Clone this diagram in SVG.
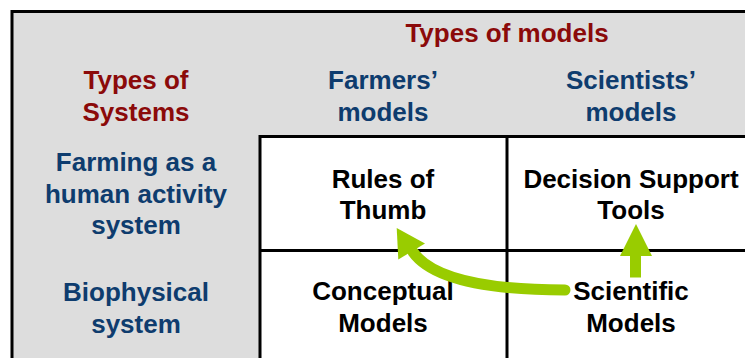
<svg xmlns="http://www.w3.org/2000/svg" width="745" height="358" viewBox="0 0 745 358">
<style>
text{font-family:"Liberation Sans",Arial,sans-serif;font-weight:bold;font-size:26px;text-anchor:middle}
.red{fill:#8B0A0A}
.blue{fill:#0E3C6E}
.blk{fill:#000}
.grid{stroke:#000;stroke-width:3;fill:none}
.arrow{fill:#99CC00}
.shaft{fill:none;stroke:#99CC00;stroke-width:11}
</style>
<rect x="0" y="0" width="745" height="358" fill="#fff"/>
<g id="frame">
<rect x="12" y="11.5" width="760" height="360" fill="#DDDDDD" stroke="#000" stroke-width="3"/>
<rect x="260" y="136.5" width="510" height="240" fill="#fff" stroke="#000" stroke-width="3"/>
<line class="grid" x1="507" y1="136.5" x2="507" y2="360"/>
<line class="grid" x1="260" y1="250.5" x2="750" y2="250.5"/>
</g>
<g id="header-models"><text class="red" x="507" y="42">Types of models</text></g>
<g id="header-systems"><text class="red" x="136" y="89">Types of</text><text class="red" x="136" y="120.5">Systems</text></g>
<g id="col-farmers"><text class="blue" x="383" y="89">Farmers’</text><text class="blue" x="383" y="120.5">models</text></g>
<g id="col-scientists"><text class="blue" x="631" y="89">Scientists’</text><text class="blue" x="631" y="120.5">models</text></g>
<g id="row-farming"><text class="blue" x="136" y="171">Farming as a</text><text class="blue" x="136" y="202.5">human activity</text><text class="blue" x="136" y="234">system</text></g>
<g id="row-biophysical"><text class="blue" x="136" y="301">Biophysical</text><text class="blue" x="136" y="332.5">system</text></g>
<g id="rules-of-thumb"><text class="blk" x="383" y="188">Rules of</text><text class="blk" x="383" y="219">Thumb</text></g>
<g id="decision-support"><text class="blk" x="631" y="188">Decision Support</text><text class="blk" x="631" y="219">Tools</text></g>
<g id="conceptual-models"><text class="blk" x="383" y="300">Conceptual</text><text class="blk" x="383" y="332">Models</text></g>
<g id="scientific-models"><text class="blk" x="631" y="300">Scientific</text><text class="blk" x="631" y="332">Models</text></g>
<g id="connectors">
<path class="shaft" d="M565,290 Q440,290 413,252" stroke-linecap="round"/>
<polygon class="arrow" points="396.7,228 425,243.5 398.3,259.5"/>
<rect class="arrow" x="630" y="254" width="11" height="23.5"/>
<polygon class="arrow" points="620,256 652,256 636,224"/>
</g>
</svg>
